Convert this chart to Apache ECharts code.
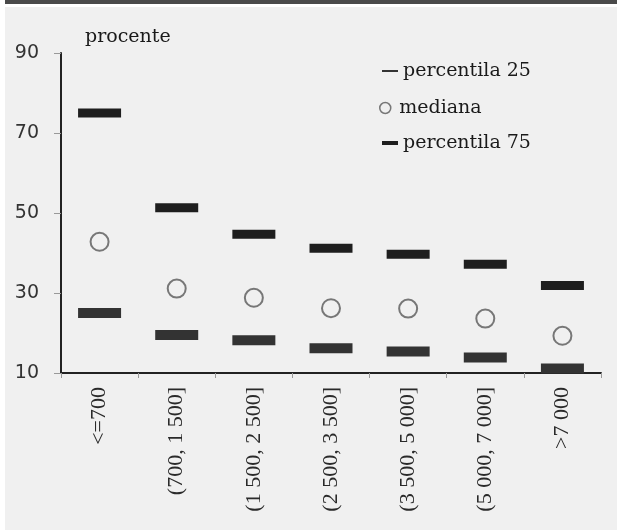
<!DOCTYPE html>
<html>
<head>
<meta charset="utf-8">
<script src="https://cdn.jsdelivr.net/npm/echarts@6/dist/echarts.min.js"></script>
<style>
html,body{margin:0;padding:0;background:#ffffff;}
#chart{width:617px;height:530px;}
</style>
</head>
<body>
<div id="chart"></div>
<script>
var categories = ['<=700', '(700, 1 500]', '(1 500, 2 500]', '(2 500, 3 500]', '(3 500, 5 000]', '(5 000, 7 000]', '>7 000'];
var p25 = [25, 19.5, 18.2, 16.2, 15.4, 13.9, 11.1];
var median = [42.8, 31.1, 28.8, 26.2, 26.1, 23.6, 19.3];
var p75 = [75, 51.3, 44.7, 41.2, 39.7, 37.2, 31.9];
var yTicks = [10, 30, 50, 70, 90];

var chart = echarts.init(document.getElementById('chart'), null, {renderer: 'canvas'});
var serif = 'DejaVu Serif';
var option = {
  backgroundColor: '#f0f0f0',
  animation: false,
  graphic: [
    {type: 'rect', left: 0, top: 0, shape: {width: 617, height: 4}, style: {fill: '#4a4a4a'}, silent: true},
    {type: 'rect', left: 0, top: 4, shape: {width: 617, height: 3}, style: {fill: '#ffffff'}, silent: true},
    {type: 'rect', left: 0, top: 0, shape: {width: 5, height: 530}, style: {fill: '#ffffff'}, silent: true}
  ],
  grid: {left: 61, right: 16, top: 53, bottom: 157, containLabel: false},
  legend: [
    {data: ['percentila 25'], left: 382, top: 61, padding: 0, itemWidth: 16, itemHeight: 2, icon: 'rect',
     itemStyle: {color: '#333333'},
     textStyle: {fontFamily: serif, fontSize: 19, color: '#1a1a1a', lineHeight: 20}},
    {data: ['mediana'], left: 379, top: 98, padding: 0, itemWidth: 18, itemHeight: 11, icon: 'circle',
     itemStyle: {color: 'transparent', borderColor: '#777777', borderWidth: 1.5},
     textStyle: {fontFamily: serif, fontSize: 19, color: '#1a1a1a', lineHeight: 20}},
    {data: ['percentila 75'], left: 382, top: 133, padding: 0, itemWidth: 16, itemHeight: 4, icon: 'rect',
     itemStyle: {color: '#1e1e1e'},
     textStyle: {fontFamily: serif, fontSize: 19, color: '#1a1a1a', lineHeight: 20}}
  ],
  xAxis: {
    type: 'category',
    data: categories,
    boundaryGap: true,
    axisLine: {lineStyle: {color: '#222222', width: 2}},
    axisTick: {show: true, length: 5, inside: false, lineStyle: {color: '#999999', width: 1}},
    axisLabel: {rotate: 90, margin: 14, fontFamily: 'Liberation Serif', fontSize: 22, color: '#2a2a2a', interval: 0},
    splitLine: {show: false}
  },
  yAxis: {
    type: 'value',
    min: yTicks[0],
    max: yTicks[yTicks.length - 1],
    interval: 20,
    name: 'procente',
    nameLocation: 'end',
    nameGap: 16,
    nameTextStyle: {fontFamily: serif, fontSize: 19, color: '#1a1a1a', align: 'left', verticalAlign: 'middle', padding: [0, 0, 0, 24]},
    axisLine: {show: true, lineStyle: {color: '#222222', width: 2}},
    axisTick: {show: true, length: 7, inside: false, lineStyle: {color: '#999999', width: 1}},
    axisLabel: {margin: 22, fontFamily: 'DejaVu Sans', fontSize: 19, color: '#333333'},
    splitLine: {show: false}
  },
  series: [
    {name: 'percentila 25', type: 'scatter', data: p25, symbol: 'rect', symbolSize: [43, 10], clip: false,
     itemStyle: {color: '#333333', opacity: 1}, z: 3},
    {name: 'mediana', type: 'scatter', data: median, symbol: 'circle', symbolSize: 18, clip: false,
     itemStyle: {color: 'transparent', borderColor: '#777777', borderWidth: 2, opacity: 1}, z: 3},
    {name: 'percentila 75', type: 'scatter', data: p75, symbol: 'rect', symbolSize: [43, 9], clip: false,
     itemStyle: {color: '#1e1e1e', opacity: 1}, z: 3}
  ]
};
chart.setOption(option);
</script>
</body>
</html>
